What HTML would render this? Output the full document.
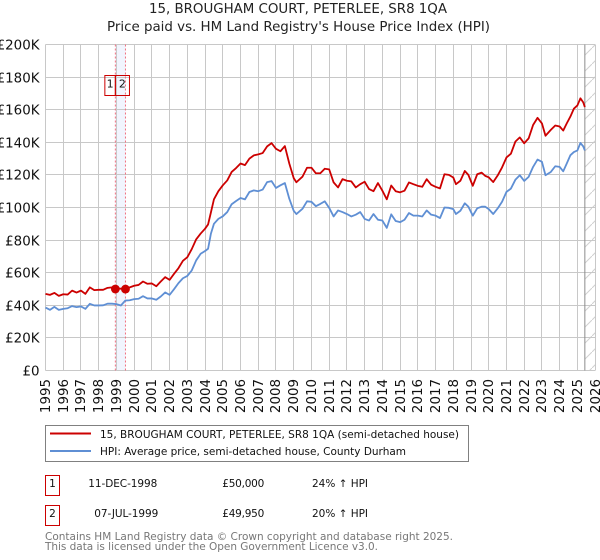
<!DOCTYPE html>
<html>
<head>
<meta charset="utf-8">
<title>15, BROUGHAM COURT, PETERLEE, SR8 1QA</title>
<style>
html,body{margin:0;padding:0;background:#fff;}
svg{display:block;font-family:"DejaVu Sans","Liberation Sans",sans-serif;}
</style>
</head>
<body>
<svg id="chart" width="600" height="560" viewBox="0 0 600 560" xmlns="http://www.w3.org/2000/svg">
  <defs>
    <pattern id="hatch" patternUnits="userSpaceOnUse" width="16" height="16">
      <line x1="0" y1="16" x2="16" y2="0" stroke="#d0d0d0" stroke-width="1"/>
    </pattern>
  </defs>
  <text x="149" y="13" font-size="13.4" textLength="298" fill="#222">15, BROUGHAM COURT, PETERLEE, SR8 1QA</text>
  <text x="107" y="31" font-size="13.4" textLength="383" fill="#222">Price paid vs. HM Land Registry's House Price Index (HPI)</text>
  <g id="plot"></g>

  <rect x="45.5" y="425.5" width="423" height="36" fill="#fff" stroke="#808080" stroke-width="1"/>
  <line x1="50" y1="433.5" x2="91" y2="433.5" stroke="#cc0000" stroke-width="2"/>
  <text x="100" y="438" font-size="10.5" textLength="359" fill="#111">15, BROUGHAM COURT, PETERLEE, SR8 1QA (semi-detached house)</text>
  <line x1="50" y1="451" x2="91" y2="451" stroke="#5f8fd4" stroke-width="2"/>
  <text x="100" y="455" font-size="10.5" textLength="306" fill="#111">HPI: Average price, semi-detached house, County Durham</text>

  <rect x="45.5" y="475.5" width="14" height="20" fill="#fff" stroke="#cc0000" stroke-width="1"/>
  <text x="52.5" y="487" text-anchor="middle" font-size="10.5" fill="#111">1</text>
  <text x="88.3" y="487" font-size="10.5" textLength="69" fill="#111">11-DEC-1998</text>
  <text x="222.3" y="487" font-size="10.5" textLength="42" fill="#111">£50,000</text>
  <text x="312" y="487" font-size="10.5" textLength="56" fill="#111">24% ↑ HPI</text>

  <rect x="45.5" y="505.5" width="14" height="20" fill="#fff" stroke="#cc0000" stroke-width="1"/>
  <text x="52.5" y="517" text-anchor="middle" font-size="10.5" fill="#111">2</text>
  <text x="94.3" y="517" font-size="10.5" textLength="64" fill="#111">07-JUL-1999</text>
  <text x="222.3" y="517" font-size="10.5" textLength="42" fill="#111">£49,950</text>
  <text x="312" y="517" font-size="10.5" textLength="56" fill="#111">20% ↑ HPI</text>

  <text x="45" y="540" font-size="10.5" textLength="408" fill="#777">Contains HM Land Registry data © Crown copyright and database right 2025.</text>
  <text x="45" y="550" font-size="10.5" textLength="333" fill="#777">This data is licensed under the Open Government Licence v3.0.</text>
</svg>
<script>
const xTickYears = [1995,1996,1997,1998,1999,2000,2001,2002,2003,2004,2005,2006,2007,2008,2009,2010,2011,2012,2013,2014,2015,2016,2017,2018,2019,2020,2021,2022,2023,2024,2025,2026];
const yTickValues = [0,20,40,60,80,100,120,140,160,180,200];
const yTickLabels = ["£0","£20K","£40K","£60K","£80K","£100K","£120K","£140K","£160K","£180K","£200K"];
const dates = [
1995,1995.25,1995.5,1995.75,
1996,1996.25,1996.5,1996.75,
1997,1997.25,1997.5,1997.75,
1998,1998.25,1998.5,1998.75,
1999,1999.25,1999.5,1999.75,
2000,2000.25,2000.5,2000.75,
2001,2001.25,2001.5,2001.75,
2002,2002.25,2002.5,2002.75,
2003,2003.25,2003.5,2003.75,
2004,2004.17,2004.33,2004.5,2004.75,
2005,2005.25,2005.5,2005.75,
2006,2006.25,2006.5,2006.75,
2007,2007.25,2007.5,2007.75,
2008,2008.25,2008.5,2008.75,
2009,2009.15,2009.5,2009.75,
2010,2010.25,2010.5,2010.75,
2011,2011.25,2011.5,2011.75,
2012,2012.25,2012.5,2012.75,
2013,2013.25,2013.5,2013.75,
2014,2014.25,2014.5,2014.75,
2015,2015.25,2015.5,2015.75,
2016,2016.25,2016.5,2016.75,
2017,2017.25,2017.5,2017.75,
2018,2018.15,2018.4,2018.65,2018.85,
2019.1,2019.35,2019.6,2019.8,
2020,2020.25,2020.5,2020.75,
2021,2021.25,2021.5,2021.75,
2022,2022.25,2022.5,2022.75,
2023,2023.2,2023.5,2023.75,
2024,2024.2,2024.4,2024.6,2024.8,
2025,2025.17,2025.33,2025.42
];
const propertySeries = [
47,46.4,47.6,45.8,
46.8,46.6,49,47.8,
49,47,51,49.3,
49.5,49.5,50.7,51,
50.3,50.2,50,51,
52,52.5,54.6,53.2,
53.4,51.7,54.6,57.3,
55.6,59.3,62.8,67.3,
69.5,74.5,80.5,84,
87,89.6,97,105,110,
113.6,116.6,121.8,124.2,
127,126,130,132,
132.6,133.4,137.5,139.5,
136,134.5,137.7,127,
118,115.5,119,124.4,
124.4,121,121,123.8,
123.4,115.4,112.3,117.4,
116.4,116,112.3,114.3,
115.8,111.3,110,115,
110.3,105,113.5,110,
109.3,110.3,115.4,114.3,
113.3,112.7,117.4,114,
112.7,111.7,120.4,120,
118.4,114.3,116.4,122.4,120,
113.3,120.4,121.4,119.4,
118.5,115.6,119.6,124.6,
130.7,133,140.4,143,
139.4,142.4,150.6,155,
151.6,144,147.6,150.3,
149.7,147.2,151.6,155.7,160.6,
162.6,167,164.5,161.6
];
const hpiSeries = [
38.6,37.2,39,37.2,
37.8,38.2,39.5,38.9,
39.3,37.8,40.9,39.9,
39.9,40,41,41,
40.7,39.9,42.9,43.1,
43.8,44,45.6,44.2,
44.2,43.4,45.4,47.9,
46.4,49.9,53.6,56.6,
58,61.4,67.6,71.6,
73.3,74.7,84,90,93,
94.6,97.2,102,104,
105.8,105,109.5,110.5,
110,111,115.6,116.2,
112,113.6,115,105.4,
98,96,99.3,103.8,
103.5,100.8,102.2,103.8,
99.8,94.5,98.2,97.2,
96,94.5,95.6,97.2,
93,92,96,92.5,
92,87.5,95.8,91.7,
91,92.5,96.6,95,
95,94.5,98.2,95.6,
95,93.5,100,99.8,
99,96,98,102.6,100.5,
95,99.5,100.5,100.5,
99,96,99.4,103.5,
109.6,111.6,117,119.8,
116.3,118.8,124.9,129.4,
128,119.8,121.8,125.3,
124.9,122.2,127,132,134,
135,139.6,137.5,135
];
const saleDates = [1998.94,1999.51];
const salePrices = [50,49.95];
const saleNumbers = ["1","2"];
const dataEndYear = 2025.42;

const SVG_NS = "http://www.w3.org/2000/svg";
const plot = document.getElementById("plot");
const xLeft = 45.5, xPerYear = 17.73, yBase = 370.5, yPerK = 1.63;
function xScale(year){ return xLeft + (year - 1995) * xPerYear; }
function yScale(value){ return yBase - value * yPerK; }
function crisp(v){ return Math.round(v - 0.5) + 0.5; }
function make(tag, attrs){
  const el = document.createElementNS(SVG_NS, tag);
  for (const k in attrs) el.setAttribute(k, attrs[k]);
  plot.appendChild(el);
  return el;
}

const plotRight = xScale(2026), plotTop = yScale(200);

const bandEl = make("rect", {x: xScale(saleDates[0]), y: plotTop, width: xScale(saleDates[1]) - xScale(saleDates[0]), height: yBase - plotTop, fill: "#f1f5fe"});



const hatchEl = make("rect", {x: xScale(dataEndYear), y: plotTop, width: plotRight - xScale(dataEndYear), height: yBase - plotTop, fill: "url(#hatch)"});



yTickValues.forEach(function(v, i){
  const y = crisp(yScale(v));
  const g = make("line", {x1: xLeft, x2: plotRight, y1: y, y2: y, stroke: "#c8c8c8", "stroke-width": 1});
  
  
  const t = make("text", {x: 39.5, y: y + 5, "text-anchor": "end", "font-size": 13.4, fill: "#111"});
  
  
  t.textContent = yTickLabels[i];
});

xTickYears.forEach(function(year){
  const x = crisp(xScale(year));
  const g = make("line", {x1: x, x2: x, y1: plotTop, y2: yBase, stroke: "#c8c8c8", "stroke-width": 1});
  
  
  const t = make("text", {transform: "translate(" + (x + 4.5) + ",379) rotate(-90)", "text-anchor": "end", "font-size": 13.4, fill: "#111"});
  
  
  t.textContent = year;
});

const endEl = make("line", {x1: xScale(dataEndYear), x2: xScale(dataEndYear), y1: plotTop, y2: yBase, stroke: "#8c8c8c", "stroke-width": 1});



saleDates.forEach(function(d){
  const l = make("line", {x1: xScale(d), x2: xScale(d), y1: plotTop, y2: yBase, stroke: "#f07080", "stroke-width": 1, "stroke-dasharray": "2,2"});
  
  
});

function pathFor(values){
  return values.map(function(v, i){
    return (i ? "L" : "M") + xScale(dates[i]).toFixed(2) + " " + yScale(v).toFixed(2);
  }).join("");
}
const hpiLine = make("path", {d: pathFor(hpiSeries), fill: "none", stroke: "#5f8fd4", "stroke-width": 1.8, "stroke-linejoin": "round"});


const propertyLine = make("path", {d: pathFor(propertySeries), fill: "none", stroke: "#cc0000", "stroke-width": 1.8, "stroke-linejoin": "round"});



saleDates.forEach(function(d, i){
  const c = make("circle", {cx: xScale(d), cy: yScale(salePrices[i]), r: 4.4, fill: "#cc0000"});
  
  
});

const labelTop = 75.5, labelHeight = 20;
const labelEdges = [xScale(saleDates[0]) - 10.5, xScale(saleDates[0]), xScale(saleDates[1]) + 4];
saleNumbers.forEach(function(n, i){
  const r = make("rect", {x: labelEdges[i], y: labelTop, width: labelEdges[i + 1] - labelEdges[i], height: labelHeight, fill: "none", stroke: "#cc0000", "stroke-width": 1});
  
  
  const t = make("text", {x: (labelEdges[i] + labelEdges[i + 1]) / 2, y: labelTop + 12, "text-anchor": "middle", "font-size": 11, fill: "#111"});
  
  
  t.textContent = n;
});
</script>
</body>
</html>
